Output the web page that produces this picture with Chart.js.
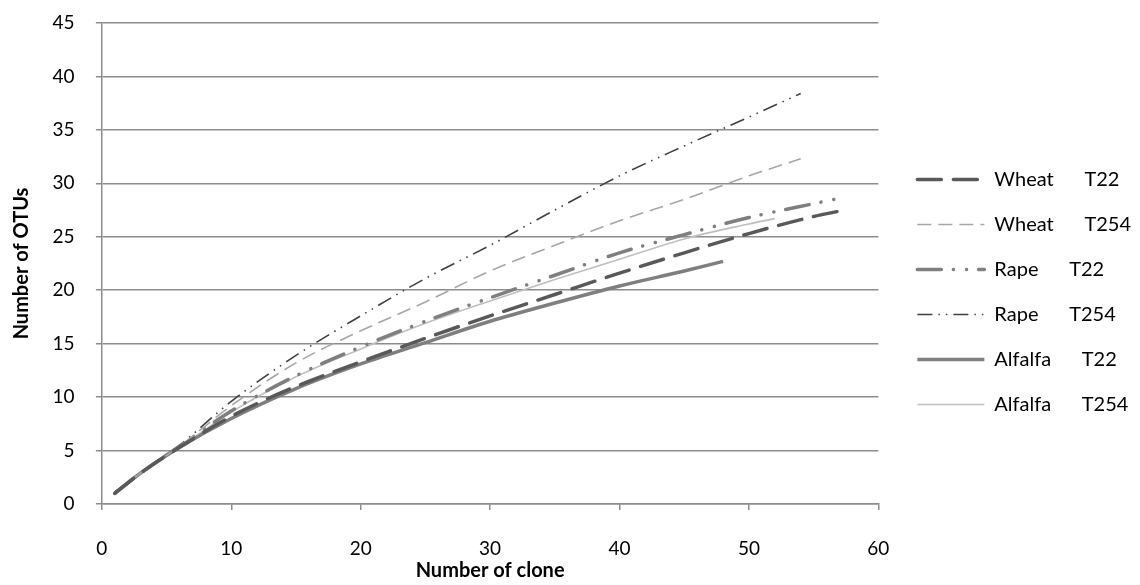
<!DOCTYPE html>
<html>
<head>
<meta charset="utf-8">
<script src="https://cdn.jsdelivr.net/npm/chart.js@4"></script>
<style>
  html, body { margin: 0; padding: 0; background: #fff; }
  #wrap { width: 1140px; height: 585px; position: relative; }
</style>
</head>
<body>
<div id="wrap"><canvas id="c" width="1140" height="585"></canvas></div>
<script>
// ---- data ----
const SP = '      ';
const seriesNames = ["Wheat" + SP + "T22", "Wheat" + SP + "T254", "Rape" + SP + "T22", "Rape" + SP + "T254", "Alfalfa" + SP + "T22", "Alfalfa" + SP + "T254"];

const wheatT22X   = [1, 3, 6, 10, 15, 20, 25, 30, 35, 40, 45, 50, 55, 57];
const wheatT22Y   = [1, 2.9, 5.3, 8.2, 11.0, 13.3, 15.5, 17.6, 19.6, 21.6, 23.5, 25.3, 26.9, 27.4];

const wheatT254X  = [1, 3, 6, 10, 15, 20, 25, 30, 35, 40, 45, 50, 54];
const wheatT254Y  = [1, 2.9, 5.4, 9.2, 13.2, 16.2, 18.9, 21.8, 24.2, 26.5, 28.5, 30.7, 32.3];

const rapeT22X    = [1, 3, 6, 10, 15, 20, 25, 30, 35, 40, 45, 50, 55, 57];
const rapeT22Y    = [1, 2.9, 5.4, 8.7, 12.0, 14.7, 17.1, 19.3, 21.4, 23.5, 25.2, 26.8, 28.1, 28.6];

const rapeT254X   = [1, 3, 6, 10, 15, 20, 25, 30, 35, 40, 45, 50, 54];
const rapeT254Y   = [1, 2.9, 5.5, 9.6, 13.9, 17.6, 21.1, 24.2, 27.5, 30.7, 33.5, 36.2, 38.4];

const alfalfaT22X = [1, 3, 6, 10, 15, 20, 25, 30, 35, 40, 45, 48];
const alfalfaT22Y = [1, 2.9, 5.3, 8.0, 10.8, 13.1, 15.1, 17.1, 18.8, 20.4, 21.8, 22.7];

const alfalfaT254X = [1, 3, 6, 10, 15, 20, 25, 30, 35, 40, 45, 50, 52];
const alfalfaT254Y = [1, 2.9, 5.3, 8.6, 11.9, 14.5, 16.9, 19.0, 21.0, 22.9, 24.8, 26.2, 26.7];

const xTicks = [0, 10, 20, 30, 40, 50, 60];
const yTicks = [0, 5, 10, 15, 20, 25, 30, 35, 40, 45];

function pts(xs, ys) { return xs.map((x, i) => ({ x: x, y: ys[i] })); }

const FONT = "Lato, 'Open Sans', sans-serif";
const GRID = '#8c8c8c';

const datasets = [
  { label: seriesNames[0], data: pts(wheatT22X, wheatT22Y), borderColor: '#595959', borderWidth: 3.5, borderDash: [24, 12], borderCapStyle: 'round' },
  { label: seriesNames[1], data: pts(wheatT254X, wheatT254Y), borderColor: '#a6a6a6', borderWidth: 1.6, borderDash: [14, 7] },
  { label: seriesNames[2], data: pts(rapeT22X, rapeT22Y), borderColor: '#7f7f7f', borderWidth: 3.5, borderDash: [24, 12, 0.1, 13, 0.1, 12], borderCapStyle: 'round' },
  { label: seriesNames[3], data: pts(rapeT254X, rapeT254Y), borderColor: '#404040', borderWidth: 1.6, borderDash: [15, 6, 1.5, 6, 1.5, 6] },
  { label: seriesNames[4], data: pts(alfalfaT22X, alfalfaT22Y), borderColor: '#7f7f7f', borderWidth: 3.5, borderDash: [] },
  { label: seriesNames[5], data: pts(alfalfaT254X, alfalfaT254Y), borderColor: '#bfbfbf', borderWidth: 1.6, borderDash: [] }
].map(d => Object.assign({
  fill: false, pointRadius: 0, pointHoverRadius: 0, cubicInterpolationMode: 'monotone',
  backgroundColor: d.borderColor
}, d));

new Chart(document.getElementById('c'), {
  type: 'line',
  data: { datasets: datasets },
  options: {
    responsive: false,
    animation: false,
    events: [],
    layout: { padding: { left: 8, top: 4.6, right: -1, bottom: 5.6 } },
    plugins: {
      tooltip: { enabled: false },
      legend: {
        position: 'right',
        align: 'center',
        maxWidth: 400,
        labels: {
          usePointStyle: true,
          pointStyle: 'line',
          pointStyleWidth: 67,
          boxWidth: 67,
          boxHeight: 16,
          padding: 25,
          color: '#000',
          font: { family: FONT, size: 20 },
          generateLabels: chart => chart.data.datasets.map((d, i) => ({
            text: d.label,
            fillStyle: d.borderColor,
            strokeStyle: d.borderColor,
            lineWidth: d.borderWidth,
            lineDash: d.borderDash,
            lineCap: d.borderCapStyle || 'butt',
            pointStyle: 'line',
            hidden: false,
            datasetIndex: i,
            fontColor: '#000'
          }))
        }
      }
    },
    scales: {
      x: {
        type: 'linear', min: 0, max: 60,
        afterBuildTicks: s => { s.ticks = xTicks.map(v => ({ value: v })); },
        grid: { drawOnChartArea: false, drawTicks: true, tickLength: 6, color: GRID, lineWidth: 1.5 },
        border: { display: true, color: GRID, width: 1.5 },
        ticks: { padding: 27, color: '#000', font: { family: FONT, size: 19 } },
        title: { display: true, text: 'Number of clone', color: '#000', font: { family: FONT, size: 20, weight: 'bold' }, padding: { top: -27.8, bottom: -3.6 } }
      },
      y: {
        type: 'linear', min: 0, max: 45,
        afterBuildTicks: s => { s.ticks = yTicks.map(v => ({ value: v })); },
        grid: { drawOnChartArea: true, drawTicks: true, tickLength: 6, color: GRID, lineWidth: 1.5 },
        border: { display: true, color: GRID, width: 1.5 },
        ticks: { padding: 11.6, color: '#000', font: { family: FONT, size: 19 }, callback: v => v + '  ' },
        title: { display: true, text: 'Number of OTUs', color: '#000', font: { family: FONT, size: 20, weight: 'bold' }, padding: { top: 2, bottom: 6.9 } }
      },
      gap: {
        type: 'linear', position: 'right', display: true,
        grid: { display: false, drawTicks: false },
        border: { display: false },
        ticks: { display: false },
        afterFit: s => { s.width = 14; }
      }
    }
  }
});
</script>
</body>
</html>
